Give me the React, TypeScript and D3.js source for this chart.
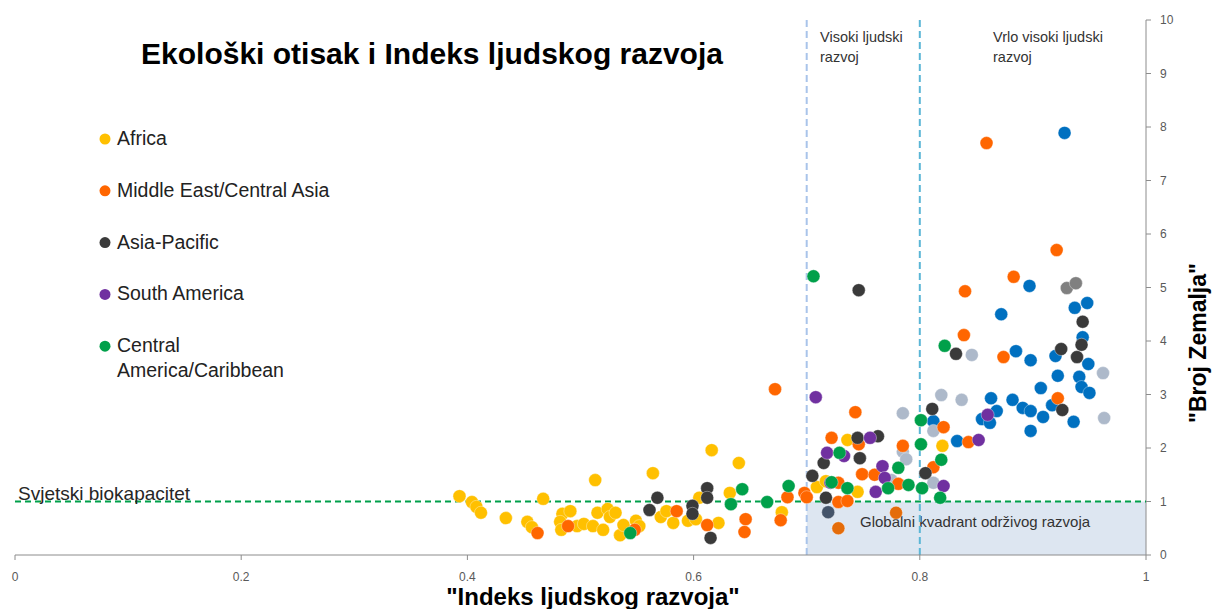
import * as d3 from "d3";

// [hdi, number of earths]
const africa: [number, number][] = [
  [0.393, 1.1], [0.404, 0.99], [0.408, 0.9], [0.412, 0.79], [0.434, 0.69],
  [0.453, 0.62], [0.457, 0.52], [0.467, 1.05], [0.513, 1.4], [0.484, 0.77],
  [0.491, 0.82], [0.482, 0.62], [0.483, 0.47], [0.497, 0.54], [0.503, 0.58],
  [0.511, 0.54], [0.52, 0.47], [0.515, 0.79], [0.524, 0.86], [0.526, 0.71],
  [0.531, 0.79], [0.535, 0.37], [0.538, 0.56], [0.549, 0.64], [0.552, 0.54],
  [0.564, 1.53], [0.571, 0.71], [0.576, 0.82], [0.582, 0.6], [0.595, 0.64],
  [0.602, 0.67], [0.605, 1.07], [0.622, 0.6], [0.616, 1.96], [0.64, 1.72],
  [0.632, 1.16], [0.678, 0.8], [0.709, 1.27], [0.717, 1.38], [0.736, 2.15],
  [0.745, 1.18], [0.82, 2.04],
];

const middleEast: [number, number][] = [
  [0.462, 0.41], [0.489, 0.54], [0.548, 0.47], [0.585, 0.82], [0.612, 0.56],
  [0.646, 0.67], [0.645, 0.43], [0.672, 3.1], [0.677, 0.65], [0.683, 1.08],
  [0.698, 1.16], [0.7, 1.08], [0.722, 2.19], [0.728, 1.35], [0.728, 0.99],
  [0.736, 1.01], [0.743, 2.67], [0.746, 2.07], [0.749, 1.51], [0.76, 1.5],
  [0.781, 1.33], [0.785, 2.04], [0.821, 2.39], [0.812, 1.64], [0.843, 2.11],
  [0.839, 4.11], [0.84, 4.93], [0.874, 3.7], [0.883, 5.2], [0.921, 5.7],
  [0.922, 2.93], [0.859, 7.7],
];
const middleEastDark: [number, number][] = [[0.728, 0.5], [0.779, 0.79]];

const asiaPacific: [number, number][] = [
  [0.561, 0.84], [0.568, 1.07], [0.599, 0.92], [0.599, 0.77], [0.612, 1.25],
  [0.612, 1.07], [0.615, 0.32], [0.705, 1.48], [0.715, 1.72], [0.717, 1.07],
  [0.745, 2.19], [0.747, 1.81], [0.763, 2.22], [0.746, 4.95], [0.805, 1.53],
  [0.811, 2.73], [0.832, 3.76], [0.925, 3.85], [0.926, 2.71], [0.939, 3.7],
  [0.943, 3.93], [0.944, 4.36],
];
const asiaSlate: [number, number][] = [[0.719, 0.8]];

const southAmerica: [number, number][] = [
  [0.708, 2.95], [0.718, 1.91], [0.733, 1.85], [0.721, 1.35], [0.756, 2.19],
  [0.767, 1.66], [0.761, 1.18], [0.769, 1.44], [0.821, 1.29], [0.852, 2.15],
  [0.86, 2.62],
];

const centralAmerica: [number, number][] = [
  [0.544, 0.41], [0.643, 1.23], [0.633, 0.95], [0.665, 0.99], [0.684, 1.29],
  [0.706, 5.21], [0.722, 1.36], [0.729, 1.91], [0.736, 1.25], [0.772, 1.25],
  [0.781, 1.63], [0.79, 1.31], [0.801, 2.52], [0.801, 2.07], [0.802, 1.25],
  [0.819, 1.78], [0.818, 1.07], [0.822, 3.91],
];

const europe: [number, number][] = [
  [0.812, 2.5], [0.833, 2.13], [0.863, 2.93], [0.868, 2.69], [0.855, 2.54],
  [0.862, 2.47], [0.872, 4.5], [0.882, 2.9], [0.885, 3.81], [0.891, 2.75],
  [0.898, 2.69], [0.898, 2.32], [0.898, 3.64], [0.897, 5.03], [0.907, 3.12],
  [0.909, 2.58], [0.917, 2.8], [0.92, 3.72], [0.922, 3.35], [0.936, 2.49],
  [0.937, 4.62], [0.948, 4.71], [0.944, 4.07], [0.941, 3.33], [0.943, 3.14],
  [0.949, 3.57], [0.95, 3.03], [0.928, 7.89],
];

const otherLight: [number, number][] = [
  [0.785, 2.65], [0.785, 1.93], [0.788, 1.79], [0.775, 1.4], [0.812, 2.32],
  [0.812, 1.35], [0.819, 2.99], [0.837, 2.9], [0.846, 3.74], [0.962, 3.4],
  [0.963, 2.56],
];
const otherGray: [number, number][] = [[0.93, 4.99], [0.938, 5.08]];

const legendItems = [
  { name: ["Africa"], color: "#ffc000" },
  { name: ["Middle East/Central Asia"], color: "#ff6600" },
  { name: ["Asia-Pacific"], color: "#3a3a3a" },
  { name: ["South America"], color: "#7030a0" },
  { name: ["Central", "America/Caribbean"], color: "#00a04a" },
];

const xTicks = [0, 0.2, 0.4, 0.6, 0.8, 1];
const yTicks = [0, 1, 2, 3, 4, 5, 6, 7, 8, 9, 10];

const W = 1214;
const H = 609;

export default function App() {
  const x = d3.scaleLinear().domain([0, 1]).range([15, 1146]);
  const y = d3.scaleLinear().domain([0, 10]).range([555, 20]);

  const series: { data: [number, number][]; color: string }[] = [
    { data: europe, color: "#0070c0" },
    { data: otherLight, color: "#adb9ca" },
    { data: otherGray, color: "#808080" },
    { data: africa, color: "#ffc000" },
    { data: middleEast, color: "#ff6600" },
    { data: middleEastDark, color: "#e46c0a" },
    { data: asiaPacific, color: "#3a3a3a" },
    { data: asiaSlate, color: "#44546a" },
    { data: southAmerica, color: "#7030a0" },
    { data: centralAmerica, color: "#00a04a" },
  ];

  const font = "'Liberation Sans', Arial, sans-serif";

  return (
    <svg
      width={W}
      height={H}
      style={{ position: "absolute", left: 0, top: 0, background: "#fff" }}
      fontFamily={font}
    >
      {/* sustainable quadrant */}
      <rect
        x={x(0.7)}
        y={y(1)}
        width={x(1) - x(0.7)}
        height={y(0) - y(1)}
        fill="#dde6f1"
      />
      <text x={860} y={527} fontSize={15} fill="#333">
        Globalni kvadrant održivog razvoja
      </text>

      {/* HDI zones */}
      <line x1={x(0.7)} x2={x(0.7)} y1={y(10)} y2={y(0)} stroke="#a9c4ea" strokeWidth={2} strokeDasharray="7,4" />
      <line x1={x(0.8)} x2={x(0.8)} y1={y(10)} y2={y(0)} stroke="#5bb6d6" strokeWidth={2} strokeDasharray="7,4" />
      <text fontSize={14.5} fill="#333">
        <tspan x={820} y={42}>Visoki ljudski</tspan>
        <tspan x={820} y={62}>razvoj</tspan>
      </text>
      <text fontSize={14.5} fill="#333">
        <tspan x={993} y={42}>Vrlo visoki ljudski</tspan>
        <tspan x={993} y={62}>razvoj</tspan>
      </text>

      {/* axes */}
      <line x1={x(0)} x2={x(1)} y1={y(0)} y2={y(0)} stroke="#8c8c8c" />
      {xTicks.map((t) => (
        <g key={t}>
          <line x1={x(t)} x2={x(t)} y1={y(0)} y2={y(0) + 5} stroke="#8c8c8c" />
          <text x={x(t)} y={581} fontSize={12} fill="#595959" textAnchor="middle">
            {t}
          </text>
        </g>
      ))}
      <line x1={x(1)} x2={x(1)} y1={y(10)} y2={y(0)} stroke="#8c8c8c" />
      {yTicks.map((t) => (
        <g key={t}>
          <line x1={x(1)} x2={x(1) + 5} y1={y(t)} y2={y(t)} stroke="#8c8c8c" />
          <text x={1160} y={y(t) + 4} fontSize={12} fill="#595959">
            {t}
          </text>
        </g>
      ))}

      {/* world biocapacity */}
      <line x1={x(0)} x2={x(1)} y1={y(1)} y2={y(1)} stroke="#00a04a" strokeWidth={2} strokeDasharray="6,4" />
      <text x={18} y={500} fontSize={19} fill="#262626">
        Svjetski biokapacitet
      </text>

      {/* points */}
      {series.map((s, si) => (
        <g key={si} fill={s.color}>
          {s.data.map((d, i) => (
            <circle key={i} cx={x(d[0])} cy={y(d[1])} r={6.5} stroke="#fff" strokeOpacity={0.6} strokeWidth={0.6} />
          ))}
        </g>
      ))}

      {/* title */}
      <text x={432} y={64} fontSize={30} fontWeight="bold" textAnchor="middle" fill="#000">
        Ekološki otisak i Indeks ljudskog razvoja
      </text>

      {/* legend */}
      {legendItems.map((item, i) => {
        const cy = 139 + i * 51.8;
        return (
          <g key={i}>
            <circle cx={105} cy={cy} r={5.5} fill={item.color} />
            {item.name.map((line, j) => (
              <text key={j} x={117} y={cy + 6 + j * 25} fontSize={19.5} fill="#222">
                {line}
              </text>
            ))}
          </g>
        );
      })}

      {/* axis titles */}
      <text x={593} y={605} fontSize={24} fontWeight="bold" textAnchor="middle" fill="#000">
        "Indeks ljudskog razvoja"
      </text>
      <text
        transform={`translate(1206,343) rotate(-90)`}
        fontSize={23}
        fontWeight="bold"
        textAnchor="middle"
        fill="#000"
      >
        "Broj Zemalja"
      </text>
    </svg>
  );
}
